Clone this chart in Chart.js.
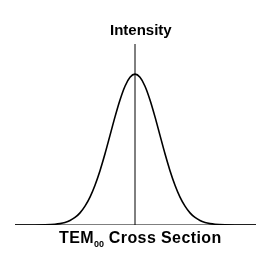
<!DOCTYPE html>
<html><head><meta charset="utf-8">
<script src="https://cdn.jsdelivr.net/npm/chart.js@4"></script>
<style>
html,body{margin:0;padding:0;background:#fff;}
#wrap{position:relative;width:273px;height:258px;}
canvas{position:absolute;left:0;top:0;}
.lbl{position:absolute;font-family:"Liberation Sans",Arial,sans-serif;font-weight:bold;color:#000;white-space:nowrap;line-height:1;}
#t1{left:110px;top:22px;font-size:15px;}
#t2{left:59px;top:230px;font-size:16px;letter-spacing:0.4px;}
#t2 sub{font-size:9px;vertical-align:-4px;letter-spacing:0;}
</style></head>
<body><div id="wrap"><canvas id="c" width="273" height="258"></canvas>
<div class="lbl" id="t1">Intensity</div>
<div class="lbl" id="t2">TEM<sub>00</sub> Cross Section</div></div>
<script>
// Positions across the beam (arbitrary units, 0 = beam centre)
const positions = [-120,-100,-90,-80,-75,-70,-65,-60,-55,-50,-45,-40,-35,-30,-25,-20,-15,-10,-5,0,5,10,15,20,25,30,35,40,45,50,55,60,65,70,75,80,90,100,121];
// Relative intensity
const intensity = [0,0.0002,0.0012,0.0048,0.0092,0.0169,0.0296,0.0499,0.0805,0.125,0.185,0.264,0.36,0.472,0.594,0.717,0.829,0.92,0.979,1,0.979,0.92,0.829,0.717,0.594,0.472,0.36,0.264,0.185,0.125,0.0805,0.0499,0.0296,0.0169,0.0092,0.0048,0.0012,0.0002,0];
const xRange = [-120, 121];
const yRange = [0, 1.2];

const curve = positions.map((p,i)=>({x:p,y:intensity[i]}));
new Chart(document.getElementById('c'), {
  type:'line',
  data:{datasets:[
    {data:curve, borderColor:'#000', borderWidth:1.6, pointRadius:0, fill:false, cubicInterpolationMode:'monotone'},
    {data:[{x:0,y:yRange[0]},{x:0,y:yRange[1]}], borderColor:'#000', borderWidth:1, pointRadius:0},
    {data:[{x:xRange[0],y:0},{x:xRange[1],y:0}], borderColor:'#000', borderWidth:1.2, pointRadius:0}
  ]},
  options:{
    responsive:false, animation:false, devicePixelRatio:1,
    layout:{padding:{left:15,right:17,top:44,bottom:33}},
    plugins:{legend:{display:false},tooltip:{enabled:false},title:{display:false}},
    scales:{
      x:{type:'linear',min:xRange[0],max:xRange[1],display:false},
      y:{type:'linear',min:yRange[0],max:yRange[1],display:false}
    }
  }
});
</script></body></html>
